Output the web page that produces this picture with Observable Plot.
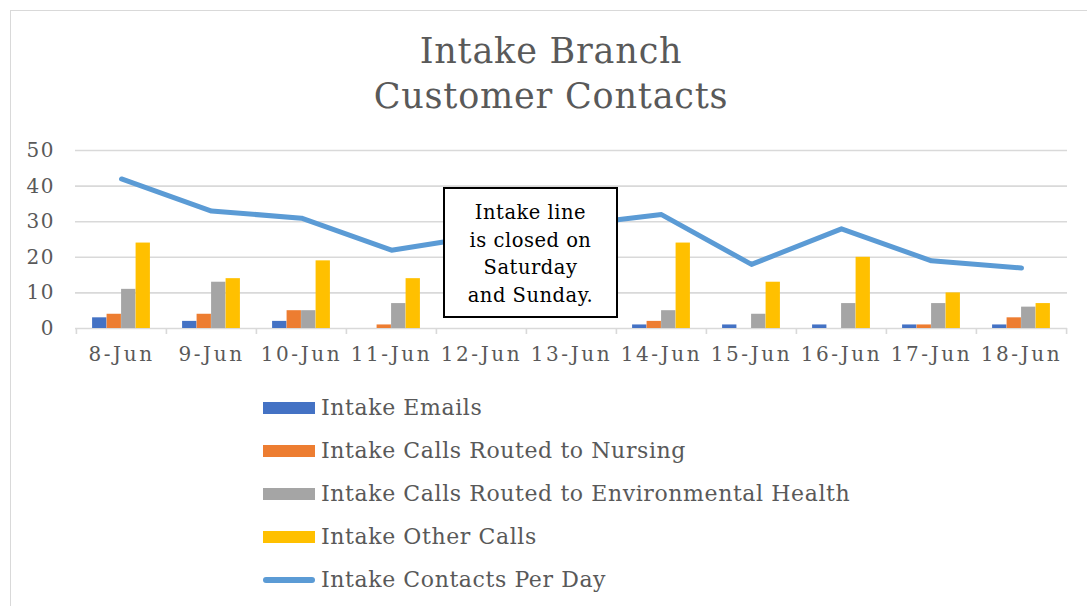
<!DOCTYPE html>
<html><head><meta charset="utf-8">
<script src="https://cdn.jsdelivr.net/npm/d3@7"></script>
<script src="https://cdn.jsdelivr.net/npm/@observablehq/plot@0.6"></script>
<style>
html,body{margin:0;padding:0;background:#fff;overflow:hidden;width:1087px;height:606px;}
body{font-family:"DejaVu Serif",serif;color:#595959;position:relative;}
#frame{position:absolute;left:10px;top:10px;width:1100px;height:620px;border:1.5px solid #d9d9d9;box-sizing:border-box;}
#title{position:absolute;left:10px;width:1082px;top:29px;text-align:center;font-size:35px;line-height:45px;letter-spacing:0.8px;color:#595959;}
#chart{position:absolute;left:0;top:130px;}
#chart g[aria-label="x-axis tick label"] text{letter-spacing:2.6px;}
#chart g[aria-label="y-axis tick label"] text{letter-spacing:1.5px;}
#note{position:absolute;left:443px;top:187px;width:175px;height:131px;box-sizing:border-box;border:2px solid #000;background:#fff;color:#000;font-size:19.5px;line-height:27.5px;letter-spacing:0.5px;text-align:center;padding-top:10px;}
#legend{position:absolute;left:263px;top:386px;}
.item{display:flex;align-items:center;height:43px;font-size:22px;letter-spacing:0.6px;color:#595959;}
.sw{width:52px;height:12px;margin-right:6px;}
.sw.line{height:6px;border-radius:3px;}
</style></head><body>
<div id="frame"></div>
<div id="title">Intake Branch<br>Customer Contacts</div>
<div id="chart"></div>
<div id="note">Intake line<br>is closed on<br>Saturday<br>and Sunday.</div>
<div id="legend"></div>
<script>
const dates = ["8-Jun","9-Jun","10-Jun","11-Jun","12-Jun","13-Jun","14-Jun","15-Jun","16-Jun","17-Jun","18-Jun"];
const emails = [3,2,2,0,0,0,1,1,1,1,1];
const nursing = [4,4,5,1,0,0,2,0,0,1,3];
const envHealth = [11,13,5,7,0,0,5,4,7,7,6];
const otherCalls = [24,14,19,14,0,0,24,13,20,10,7];
const contactsPerDay = [42,33,31,22,26,29,32,18,28,19,17];
const yTicks = [0,10,20,30,40,50];
const barNames = ["Intake Emails","Intake Calls Routed to Nursing","Intake Calls Routed to Environmental Health","Intake Other Calls"];
const lineName = "Intake Contacts Per Day";
const barColors = ["#4472C4","#ED7D31","#A5A5A5","#FFC000"];
const lineColor = "#5B9BD5";

const barSeries = [emails, nursing, envHealth, otherCalls];
const rows = dates.map((d,i)=>({date:d, contacts:contactsPerDay[i]}));

const W = 1087, mL = 75, mR = 20;
const bw = (W - mL - mR) / dates.length;
const barW = 14.5;
const inset = (bw - barW) / 2;

const barMarks = barSeries.map((vals, k) =>
  Plot.barY(dates.map((d,i)=>({date:d, v:vals[i]})), {
    x: "date", y: "v", fill: barColors[k],
    insetLeft: inset, insetRight: inset, dx: (k - 1.5) * barW
  })
);

const chart = Plot.plot({
  width: W, height: 238,
  marginLeft: mL, marginRight: mR, marginTop: 20, marginBottom: 40,
  style: {fontFamily: "DejaVu Serif", fontSize: "20px", color: "#595959", background: "transparent", overflow: "visible"},
  x: {type: "band", domain: dates, padding: 0, label: null},
  y: {domain: [0, 50], label: null},
  marks: [
    Plot.ruleY(yTicks, {y: d=>d, stroke: "#d9d9d9", strokeWidth: 1.6}),
    Plot.ruleX(dates, {x: d=>d, y1: 0, y2: 0, dx: -bw/2, insetBottom: -6, stroke: "#d9d9d9", strokeWidth: 1.6}),
    Plot.ruleX(dates.slice(-1), {x: d=>d, y1: 0, y2: 0, dx: bw/2, insetBottom: -6, stroke: "#d9d9d9", strokeWidth: 1.6}),
    ...barMarks,
    Plot.line(rows, {x: "date", y: "contacts", stroke: lineColor, strokeWidth: 5, strokeLinecap: "round", strokeLinejoin: "round"}),
    Plot.axisY({ticks: yTicks, tickSize: 0, tickPadding: 20.5, label: null}),
    Plot.axisX({tickSize: 0, tickPadding: 18, label: null})
  ]
});
document.getElementById("chart").appendChild(chart);

const legend = document.getElementById("legend");
barNames.forEach((n,k)=>{
  const it = document.createElement("div"); it.className = "item";
  it.innerHTML = `<div class="sw" style="background:${barColors[k]}"></div><span>${n}</span>`;
  legend.appendChild(it);
});
const li = document.createElement("div"); li.className = "item";
li.innerHTML = `<div class="sw line" style="background:${lineColor}"></div><span>${lineName}</span>`;
legend.appendChild(li);
</script>
</body></html>
